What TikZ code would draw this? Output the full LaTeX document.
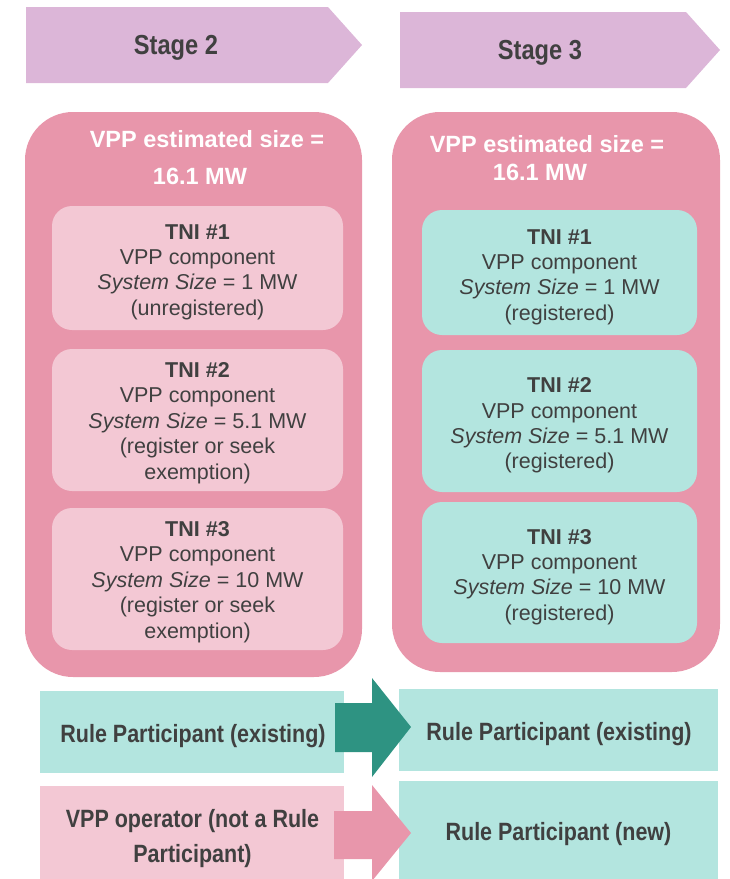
\documentclass[tikz,border=0pt]{standalone}
\usepackage{fontspec}
\setmainfont{Liberation Sans}
\newfontfamily\narrowfont[FakeStretch=0.86]{Liberation Sans}
\definecolor{banner}{HTML}{DCB6D8}
\definecolor{bigpink}{HTML}{E896AB}
\definecolor{lightpink}{HTML}{F3C8D4}
\definecolor{lightteal}{HTML}{B3E5DF}
\definecolor{darkteal}{HTML}{2E9382}
\definecolor{txt}{HTML}{404040}
\begin{document}
\begin{tikzpicture}[x=1pt,y=-1pt,
  bigbox/.style={fill=bigpink,draw=none,rounded corners=48pt,inner sep=0pt},
  tnibox/.style={draw=none,rounded corners=20pt,inner sep=0pt},
  tnipink/.style={tnibox,fill=lightpink},
  tniteal/.style={tnibox,fill=lightteal},
  tnitxt/.style={text=txt,align=center,inner sep=0pt,
     font=\fontsize{21.5}{25.4}\selectfont},
  titletxt/.style={text=white,font=\fontsize{23.5}{28}\selectfont\bfseries,inner sep=0pt},
  bannertxt/.style={text=txt,font=\narrowfont\fontsize{27.5}{32}\selectfont\bfseries,inner sep=0pt},
  rolebox/.style={draw=none,inner sep=0pt},
  roletxt/.style={text=txt,align=center,inner sep=0pt,
     font=\narrowfont\fontsize{25}{35}\selectfont\bfseries}
]
\useasboundingbox (0,0) rectangle (729,879);

% banners
\fill[banner] (26,7) -- (328,7) -- (362,45) -- (328,83) -- (26,83) -- cycle;
\node[bannertxt] (s2) at (176,48) {Stage 2};
\fill[banner] (400,12) -- (686,12) -- (720,50) -- (686,88) -- (400,88) -- cycle;
\node[bannertxt] (s3) at (540,53) {Stage 3};

% big boxes
\node[bigbox,minimum width=337pt,minimum height=565pt] (bigL) at (193.5,394.5) {};
\node[bigbox,minimum width=328pt,minimum height=560pt] (bigR) at (556,392) {};
\node[titletxt] (tL1) at (207,139) {VPP estimated size =};
\node[titletxt] (tL2) at (200,176) {16.1 MW};
\node[titletxt] (tR1) at (547,144) {VPP estimated size =};
\node[titletxt] (tR2) at (540,172) {16.1 MW};

% TNI boxes left
\node[tnipink,minimum width=291pt,minimum height=124pt] (l1) at (197.5,268) {};
\node[tnitxt] (l1t) at (197.5,272)
  {\textbf{TNI \#1}\\VPP component\\\textit{System Size} = 1 MW\\(unregistered)};
\node[tnipink,minimum width=291pt,minimum height=142pt] (l2) at (197.5,420) {};
\node[tnitxt] (l2t) at (197.5,423)
  {\textbf{TNI \#2}\\VPP component\\\textit{System Size} = 5.1 MW\\(register or seek\\exemption)};
\node[tnipink,minimum width=291pt,minimum height=142pt] (l3) at (197.5,579) {};
\node[tnitxt] (l3t) at (197.5,582)
  {\textbf{TNI \#3}\\VPP component\\\textit{System Size} = 10 MW\\(register or seek\\exemption)};

% TNI boxes right
\node[tniteal,minimum width=275pt,minimum height=125pt] (r1) at (559.5,272.5) {};
\node[tnitxt] (r1t) at (559.5,277)
  {\textbf{TNI \#1}\\VPP component\\\textit{System Size} = 1 MW\\(registered)};
\node[tniteal,minimum width=275pt,minimum height=142pt] (r2) at (559.5,421) {};
\node[tnitxt] (r2t) at (559.5,425.5)
  {\textbf{TNI \#2}\\VPP component\\\textit{System Size} = 5.1 MW\\(registered)};
\node[tniteal,minimum width=275pt,minimum height=141pt] (r3) at (559.5,572.5) {};
\node[tnitxt] (r3t) at (559.5,577)
  {\textbf{TNI \#3}\\VPP component\\\textit{System Size} = 10 MW\\(registered)};

% bottom role boxes
\node[rolebox,fill=lightteal,minimum width=304pt,minimum height=82pt] (p1) at (192,732) {};
\node[roletxt] (p1t) at (193,736) {Rule Participant (existing)};
\node[rolebox,fill=lightpink,minimum width=304pt,minimum height=95pt] (p2) at (192,833.5) {};
\node[roletxt] (p2t) at (192.5,839) {VPP operator (not a Rule\\Participant)};

\node[rolebox,fill=lightteal,minimum width=319pt,minimum height=82pt] (q1) at (558.5,730) {};
\node[roletxt] (q1t) at (559,734) {Rule Participant (existing)};
\node[rolebox,fill=lightteal,minimum width=319pt,minimum height=100pt] (q2) at (558.5,831) {};
\node[roletxt] (q2t) at (558.5,834) {Rule Participant (new)};

% arrows
\fill[darkteal] (335,703) -- (372,703) -- (372,678) -- (411,727) -- (372,777) -- (372,752) -- (335,752) -- cycle;
\fill[bigpink] (334,811) -- (372,811) -- (372,785) -- (411,833) -- (372,881) -- (372,859) -- (334,859) -- cycle;
\end{tikzpicture}
\end{document}
